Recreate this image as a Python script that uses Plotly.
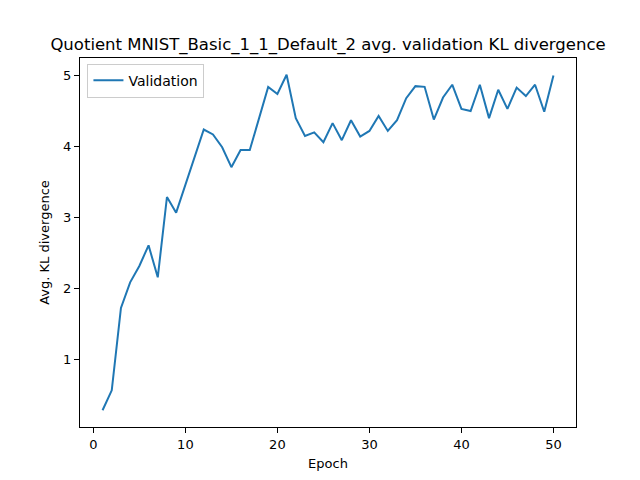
import plotly.graph_objects as go

## Validation KL divergence per epoch
epochs = list(range(1, 51))
val_kl = [0.29, 0.57, 1.73, 2.09, 2.32, 2.61, 2.16, 3.29, 3.07, 3.46,
          3.85, 4.24, 4.17, 3.99, 3.71, 3.95, 3.95, 4.41, 4.84, 4.74,
          5.01, 4.40, 4.15, 4.20, 4.06, 4.33, 4.09, 4.37, 4.14, 4.22,
          4.43, 4.22, 4.37, 4.68, 4.85, 4.84, 4.38, 4.69, 4.87, 4.53,
          4.50, 4.87, 4.40, 4.80, 4.53, 4.83, 4.71, 4.87, 4.49, 5.00]
x_ticks = [0, 10, 20, 30, 40, 50]
y_ticks = [1, 2, 3, 4, 5]

fig = go.Figure()
fig.add_trace(go.Scatter(x=epochs, y=val_kl, mode="lines", name="Validation",
                         line=dict(color="#1f77b4", width=2)))

axis_style = dict(showline=True, linecolor="black", linewidth=1, mirror=True,
                  ticks="outside", ticklen=5, tickcolor="black", showgrid=False,
                  zeroline=False, tickfont=dict(size=13, color="black"))

# page body adds 8px margin, so shift everything up/left by 8px
fig.update_layout(
    width=640, height=480,
    margin=dict(l=72, r=72, t=50, b=61),
    paper_bgcolor="white", plot_bgcolor="white",
    font=dict(family="DejaVu Sans", color="black"),
    title=dict(text="Quotient MNIST_Basic_1_1_Default_2 avg. validation KL divergence",
               x=0.5, xanchor="center", y=0.925, yanchor="middle", font=dict(size=16.5)),
    xaxis=dict(title=dict(text="Epoch", font=dict(size=13), standoff=8),
               range=[-1.45, 52.45], tickvals=x_ticks, **axis_style),
    yaxis=dict(title=dict(text="Avg. KL divergence", font=dict(size=13), standoff=10),
               range=[0.054, 5.246], tickvals=y_ticks, **axis_style),
    legend=dict(x=0.015, y=0.985, xanchor="left", yanchor="top",
                bgcolor="white", bordercolor="#cccccc", borderwidth=1,
                font=dict(size=14)),
    showlegend=True,
)

fig.write_html("out.html")
